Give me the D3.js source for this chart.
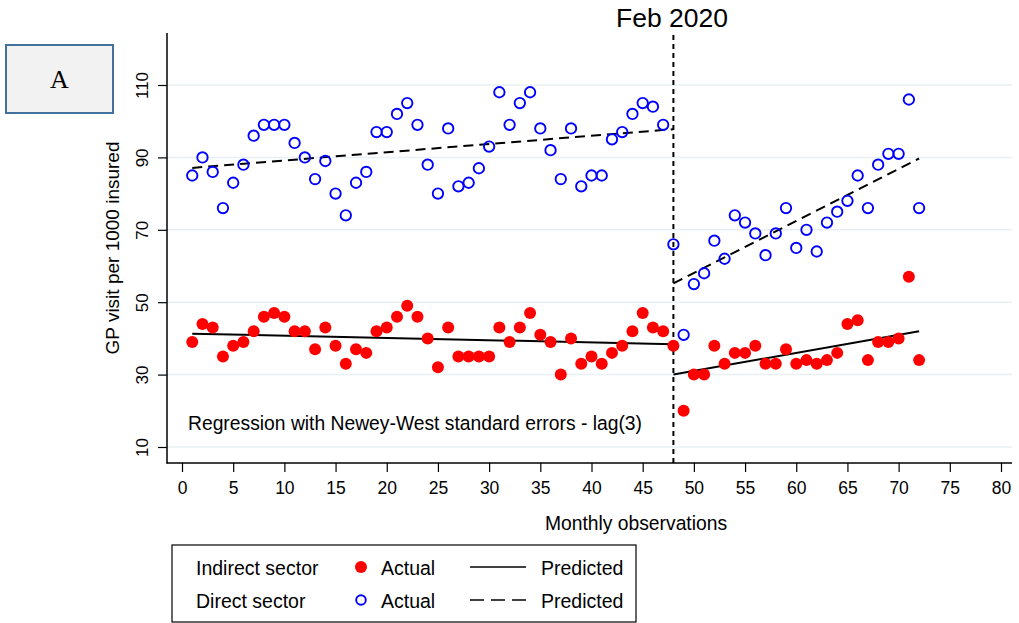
<!DOCTYPE html>
<html>
<head>
<meta charset="utf-8">
<script src="https://cdn.jsdelivr.net/npm/d3@7/dist/d3.min.js"></script>
<style>
  html, body { margin: 0; padding: 0; background: #fff; }
  svg { display: block; font-family: "Liberation Sans", Arial, sans-serif; }
</style>
</head>
<body>
<svg id="chart" width="1019" height="623"></svg>
<script>
// Monthly observations 1..72
const months = d3.range(1, 73);

// Direct sector (GP visits per 1000 insured)
const directActual = [
  85, 90, 86, 76, 83, 88, 96, 99, 99, 99, 94, 90, 84, 89, 80, 74, 83, 86, 97, 97,
  102, 105, 99, 88, 80, 98, 82, 83, 87, 93, 108, 99, 105, 108, 98, 92, 84, 98, 82, 85,
  85, 95, 97, 102, 105, 104, 99, 66, 41, 55, 58, 67, 62, 74, 72, 69, 63, 69, 76, 65,
  70, 64, 72, 75, 78, 85, 76, 88, 91, 91, 106, 76
];

// Indirect sector (GP visits per 1000 insured)
const indirectActual = [
  39, 44, 43, 35, 38, 39, 42, 46, 47, 46, 42, 42, 37, 43, 38, 33, 37, 36, 42, 43,
  46, 49, 46, 40, 32, 43, 35, 35, 35, 35, 43, 39, 43, 47, 41, 39, 30, 40, 33, 35,
  33, 36, 38, 42, 47, 43, 42, 38, 20, 30, 30, 38, 33, 36, 36, 38, 33, 33, 37, 33,
  34, 33, 34, 36, 44, 45, 34, 39, 39, 40, 57, 34
];

// Fitted segmented regression lines: [startMonth, startValue, endMonth, endValue]
const directPredicted = [[1, 87.1, 48, 97.8], [48, 55.2, 72, 89.7]];
const indirectPredicted = [[1, 41.3, 48, 38.4], [48, 30.0, 72, 42.0]];

const xTicks = d3.range(0, 81, 5);
const yTicks = [10, 30, 50, 70, 90, 110];
const breakMonth = 48;

const svg = d3.select("#chart");

const x = d3.scaleLinear().domain([0, 80]).range([182, 1001]);
const y = d3.scaleLinear().domain([10, 110]).range([447, 85]);

const axisLeft = 167, axisBottom = 463, plotTop = 33, plotRight = 1012;
const font = "'Liberation Sans', Arial, sans-serif";

// Grid lines
svg.append("g").selectAll("line").data(yTicks).join("line")
  .attr("x1", axisLeft).attr("x2", plotRight)
  .attr("y1", d => y(d)).attr("y2", d => y(d))
  .attr("stroke", "#e8f0f3").attr("stroke-width", 1.5);

// X axis
const xAxis = svg.append("g").attr("transform", `translate(0,${axisBottom})`)
  .call(d3.axisBottom(x).tickValues(xTicks).tickSize(9).tickPadding(10).tickSizeOuter(0));
xAxis.select(".domain").remove();
xAxis.selectAll(".tick line").attr("stroke", "#000").attr("stroke-width", 1.2);
xAxis.selectAll(".tick text").attr("font-size", 17.5).attr("fill", "#000")
  .attr("font-family", font);
svg.append("line").attr("x1", axisLeft - 0.5).attr("x2", plotRight)
  .attr("y1", axisBottom).attr("y2", axisBottom)
  .attr("stroke", "#000").attr("stroke-width", 1.5);

// Y axis
const yAxis = svg.append("g").attr("transform", `translate(${axisLeft},0)`)
  .call(d3.axisLeft(y).tickValues(yTicks).tickSize(9).tickSizeOuter(0));
yAxis.select(".domain").remove();
yAxis.selectAll(".tick line").attr("stroke", "#000").attr("stroke-width", 1.2);
yAxis.selectAll(".tick text")
  .attr("font-size", 17).attr("fill", "#000")
  .attr("font-family", font)
  .attr("x", null).attr("dy", null)
  .attr("text-anchor", "middle")
  .attr("transform", "translate(-25,0) rotate(-90)")
  .attr("dominant-baseline", "central");
svg.append("line").attr("x1", axisLeft).attr("x2", axisLeft)
  .attr("y1", plotTop).attr("y2", axisBottom + 0.5)
  .attr("stroke", "#000").attr("stroke-width", 1.5);

// Axis titles
svg.append("text").attr("x", 636).attr("y", 530).attr("text-anchor", "middle")
  .attr("font-size", 19.3).text("Monthly observations");
svg.append("text").attr("transform", "translate(119,248) rotate(-90)")
  .attr("text-anchor", "middle").attr("font-size", 19).text("GP visit per 1000 insured");

// Intervention marker
svg.append("line").attr("x1", x(breakMonth)).attr("x2", x(breakMonth))
  .attr("y1", 35).attr("y2", axisBottom)
  .attr("stroke", "#000").attr("stroke-width", 2).attr("stroke-dasharray", "5,4");
svg.append("text").attr("x", 672).attr("y", 27).attr("text-anchor", "middle")
  .attr("font-size", 26.5).text("Feb 2020");

// Regression note
svg.append("text").attr("x", 188).attr("y", 430).attr("font-size", 19.3)
  .text("Regression with Newey-West standard errors - lag(3)");

// Predicted lines
svg.append("g").selectAll("line").data(indirectPredicted).join("line")
  .attr("x1", d => x(d[0])).attr("y1", d => y(d[1]))
  .attr("x2", d => x(d[2])).attr("y2", d => y(d[3]))
  .attr("stroke", "#000").attr("stroke-width", 2);
svg.append("g").selectAll("line").data(directPredicted).join("line")
  .attr("x1", d => x(d[0])).attr("y1", d => y(d[1]))
  .attr("x2", d => x(d[2])).attr("y2", d => y(d[3]))
  .attr("stroke", "#000").attr("stroke-width", 2).attr("stroke-dasharray", "10,6");

// Actual points
svg.append("g").selectAll("circle").data(directActual).join("circle")
  .attr("cx", (d, i) => x(months[i])).attr("cy", d => y(d)).attr("r", 5.2)
  .attr("fill", "none").attr("stroke", "#0000ff").attr("stroke-width", 1.9);
svg.append("g").selectAll("circle").data(indirectActual).join("circle")
  .attr("cx", (d, i) => x(months[i])).attr("cy", d => y(d)).attr("r", 6)
  .attr("fill", "#ff0000");

// Panel label
svg.append("rect").attr("x", 6).attr("y", 45).attr("width", 107).attr("height", 68)
  .attr("fill", "#f2f2f2").attr("stroke", "#41719c").attr("stroke-width", 2);
svg.append("text").attr("x", 59.5).attr("y", 88).attr("text-anchor", "middle")
  .attr("font-family", "'Liberation Serif', 'Times New Roman', serif")
  .attr("font-size", 26).text("A");

// Legend
const legend = svg.append("g");
legend.append("rect").attr("x", 172).attr("y", 545).attr("width", 464).attr("height", 77)
  .attr("fill", "#fff").attr("stroke", "#000").attr("stroke-width", 1.2);
const rows = [
  { label: "Indirect sector", cy: 568, filled: true, dash: null },
  { label: "Direct sector", cy: 601, filled: false, dash: "14,7" }
];
rows.forEach(r => {
  legend.append("text").attr("x", 196).attr("y", r.cy).attr("dominant-baseline", "central")
    .attr("font-size", 19.5).text(r.label);
  if (r.filled) {
    legend.append("circle").attr("cx", 361).attr("cy", r.cy - 1).attr("r", 6).attr("fill", "#ff0000");
  } else {
    legend.append("circle").attr("cx", 361).attr("cy", r.cy - 1).attr("r", 4.8)
      .attr("fill", "none").attr("stroke", "#0000ff").attr("stroke-width", 1.9);
  }
  legend.append("text").attr("x", 381).attr("y", r.cy).attr("dominant-baseline", "central")
    .attr("font-size", 19.5).text("Actual");
  legend.append("line").attr("x1", 470).attr("x2", 526).attr("y1", r.cy - 1).attr("y2", r.cy - 1)
    .attr("stroke", "#000").attr("stroke-width", 1.5).attr("stroke-dasharray", r.dash);
  legend.append("text").attr("x", 541).attr("y", r.cy).attr("dominant-baseline", "central")
    .attr("font-size", 19.5).text("Predicted");
});
</script>
</body>
</html>
